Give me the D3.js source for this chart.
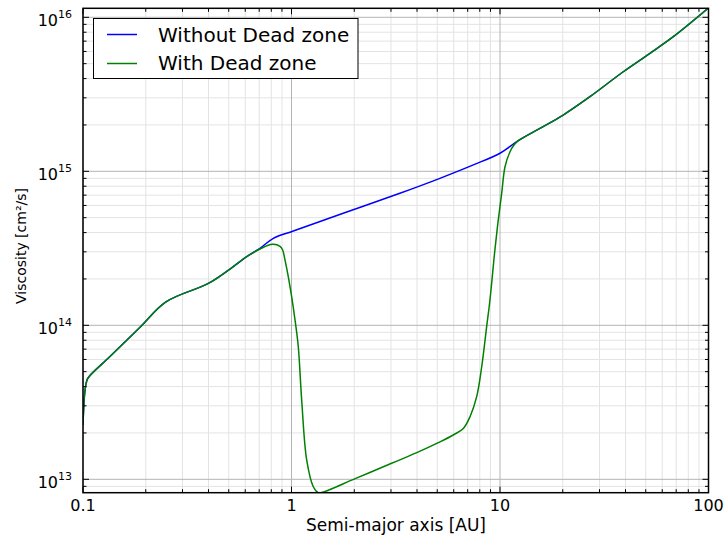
<!DOCTYPE html>
<html><head><meta charset="utf-8">
<script src="https://cdn.jsdelivr.net/npm/d3@7"></script>
<style>body{margin:0;background:#fff}svg{display:block}text{font-family:"DejaVu Sans",sans-serif}</style>
</head><body><svg id="c" width="728" height="536"></svg>
<script>
// Data (semi-major axis in AU, viscosity in cm^2/s)
const noDzX = [0.1, 0.1017, 0.1039, 0.1057, 0.1347, 0.1877, 0.25, 0.399, 0.507, 0.610, 0.706, 0.818, 1.02, 1.77, 3.31, 5.15, 7.45, 10.0, 12.24, 15.55, 20.1, 27.0, 39.0, 52.4, 67.8, 100];
const noDzY = [2.25e13, 3.53e13, 4.28e13, 4.55e13, 6.27e13, 9.72e13, 1.42e14, 1.87e14, 2.32e14, 2.79e14, 3.16e14, 3.67e14, 4.1e14, 5.34e14, 7.2e14, 9.0e14, 1.10e15, 1.31e15, 1.58e15, 1.90e15, 2.32e15, 3.05e15, 4.43e15, 5.84e15, 7.48e15, 1.15e16];
const dzX = [0.1, 0.1017, 0.1039, 0.1057, 0.1347, 0.1877, 0.25, 0.399, 0.507, 0.610, 0.706, 0.809, 0.881, 0.907, 0.931, 0.965, 1.002, 1.04, 1.078, 1.119, 1.183, 1.272, 1.344, 1.396, 2.02, 3.02, 3.99, 5.06, 5.97, 6.67, 7.18, 7.73, 8.17, 8.63, 8.95, 9.45, 9.81, 10.19, 10.57, 11.17, 11.67, 12.24, 15.55, 20.1, 27.0, 39.0, 52.4, 67.8, 100];
const dzY = [2.25e13, 3.53e13, 4.28e13, 4.55e13, 6.27e13, 9.72e13, 1.42e14, 1.87e14, 2.32e14, 2.79e14, 3.13e14, 3.36e14, 3.26e14, 3.08e14, 2.65e14, 2.07e14, 1.53e14, 1.08e14, 7.26e13, 3.27e13, 1.33e13, 8.95e12, 8.18e12, 8.2e12, 1.01e13, 1.27e13, 1.49e13, 1.73e13, 1.94e13, 2.14e13, 2.55e13, 3.44e13, 5.38e13, 9.8e13, 1.46e14, 3.08e14, 4.83e14, 7.2e14, 1.07e15, 1.34e15, 1.48e15, 1.58e15, 1.90e15, 2.32e15, 3.05e15, 4.43e15, 5.84e15, 7.48e15, 1.15e16];
const seriesNames = ["Without Dead zone", "With Dead zone"];
const seriesColors = ["#0000ff", "#008000"];
const xTickVals = [0.1, 1, 10, 100];
const xTickLabels = ["0.1", "1", "10", "100"];
const yTickExps = [13, 14, 15, 16];

const svg = d3.select("#c");
const L = 83, R = 708.5, T = 8.3, B = 492.7;
const x = d3.scaleLog().domain([0.1, 100]).range([L, R]);
const yTop = Math.pow(10, 16 + (17.3 - T) / 154), yBot = Math.pow(10, 13 - (B - 479.3) / 154);
const y = d3.scaleLog().domain([yBot, yTop]).range([B, T]);

const xMinor = [], yMinor = [];
for (let e = -1; e < 2; e++) for (let m = 2; m <= 9; m++) xMinor.push(m * Math.pow(10, e));
for (let e = 12; e < 17; e++) for (let m = 2; m <= 9; m++) { const v = m * Math.pow(10, e); if (v > yBot && v < yTop) yMinor.push(v); }
const yMajor = yTickExps.map(e => Math.pow(10, e));

const g = svg.append("g");
g.selectAll(".gxm").data(xMinor).join("line").attr("x1", d => x(d)).attr("x2", d => x(d)).attr("y1", T).attr("y2", B).attr("stroke", "#e3e3e3").attr("stroke-width", 1);
g.selectAll(".gym").data(yMinor).join("line").attr("y1", d => y(d)).attr("y2", d => y(d)).attr("x1", L).attr("x2", R).attr("stroke", "#e3e3e3").attr("stroke-width", 1);
g.selectAll(".gxM").data(xTickVals).join("line").attr("x1", d => x(d)).attr("x2", d => x(d)).attr("y1", T).attr("y2", B).attr("stroke", "#b4b4b4").attr("stroke-width", 1);
g.selectAll(".gyM").data(yMajor).join("line").attr("y1", d => y(d)).attr("y2", d => y(d)).attr("x1", L).attr("x2", R).attr("stroke", "#b4b4b4").attr("stroke-width", 1);

svg.append("clipPath").attr("id", "clip").append("rect").attr("x", L).attr("y", T).attr("width", R - L).attr("height", B - T);
const line = d3.line().x(d => x(d[0])).y(d => y(d[1])).curve(d3.curveCatmullRom.alpha(0.5));
const dataSets = [d3.zip(noDzX, noDzY), d3.zip(dzX, dzY)];
dataSets.forEach((ds, i) => {
  svg.append("path").datum(ds).attr("d", line).attr("fill", "none").attr("stroke", seriesColors[i]).attr("stroke-width", 1.5).attr("clip-path", "url(#clip)");
});

const tk = svg.append("g").attr("stroke", "#000").attr("stroke-width", 1);
xTickVals.forEach(v => {
  tk.append("line").attr("x1", x(v)).attr("x2", x(v)).attr("y1", B).attr("y2", B - 6);
  tk.append("line").attr("x1", x(v)).attr("x2", x(v)).attr("y1", T).attr("y2", T + 6);
});
xMinor.forEach(v => {
  tk.append("line").attr("x1", x(v)).attr("x2", x(v)).attr("y1", B).attr("y2", B - 3.5);
  tk.append("line").attr("x1", x(v)).attr("x2", x(v)).attr("y1", T).attr("y2", T + 3.5);
});
yMajor.forEach(v => {
  tk.append("line").attr("y1", y(v)).attr("y2", y(v)).attr("x1", L).attr("x2", L + 6);
  tk.append("line").attr("y1", y(v)).attr("y2", y(v)).attr("x1", R).attr("x2", R - 6);
});
yMinor.forEach(v => {
  tk.append("line").attr("y1", y(v)).attr("y2", y(v)).attr("x1", L).attr("x2", L + 3.5);
  tk.append("line").attr("y1", y(v)).attr("y2", y(v)).attr("x1", R).attr("x2", R - 3.5);
});
svg.append("rect").attr("x", L).attr("y", T).attr("width", R - L).attr("height", B - T).attr("fill", "none").attr("stroke", "#000").attr("stroke-width", 1.5);

svg.selectAll(".xl").data(xTickVals).join("text").attr("x", d => x(d)).attr("y", B + 18).attr("text-anchor", "middle").attr("font-size", 16).attr("fill", "#000").text((d, i) => xTickLabels[i]);
yTickExps.forEach(e => {
  const t = svg.append("text").attr("x", 72).attr("y", y(Math.pow(10, e)) + 9).attr("text-anchor", "end").attr("font-size", 16).attr("fill", "#000");
  t.append("tspan").text("10");
  t.append("tspan").attr("font-size", 11).attr("dy", -8).text(String(e));
});

svg.append("text").attr("x", 396).attr("y", 531).attr("text-anchor", "middle").attr("font-size", 17).text("Semi-major axis [AU]");
svg.append("text").attr("transform", "translate(26,246) rotate(-90)").attr("text-anchor", "middle").attr("font-size", 14).text("Viscosity [cm²/s]");

const lg = svg.append("g");
lg.append("rect").attr("x", 93.5).attr("y", 18.5).attr("width", 264.5).attr("height", 60).attr("fill", "#fff").attr("stroke", "#000").attr("stroke-width", 1);
seriesNames.forEach((n, i) => {
  const yy = 34.5 + i * 29;
  lg.append("line").attr("x1", 107).attr("x2", 137).attr("y1", yy).attr("y2", yy).attr("stroke", seriesColors[i]).attr("stroke-width", 1.5);
  lg.append("text").attr("x", 158).attr("y", 41.7 + i * 28.5).attr("font-size", 20).text(n);
});
</script></body></html>
